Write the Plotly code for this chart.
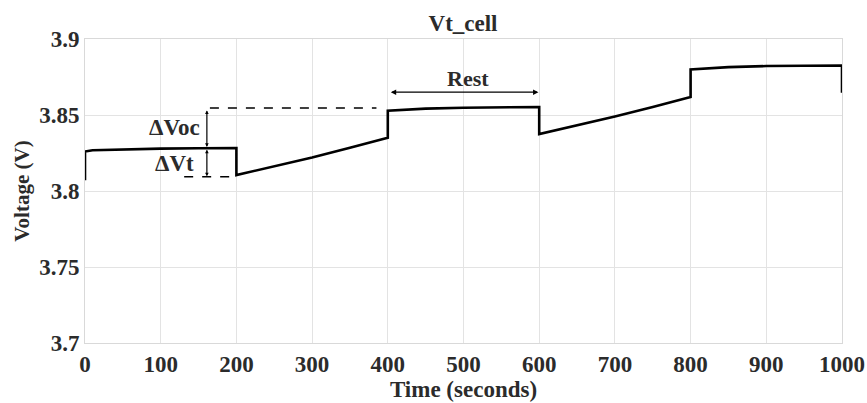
import plotly.graph_objects as go

# Data
time_s = [0, 0, 10, 50, 100, 150, 200, 200, 250, 300, 350, 400, 400, 450, 500, 550, 600,
          600, 650, 700, 750, 800, 800, 850, 900, 950, 1000, 1000]
voltage = [3.807, 3.826, 3.8268, 3.8275, 3.8279, 3.8281, 3.8283, 3.8105, 3.8160, 3.8220,
           3.8285, 3.8350, 3.8528, 3.8542, 3.8548, 3.8551, 3.8553, 3.8375, 3.8430, 3.8490,
           3.8552, 3.8618, 3.8800, 3.8815, 3.8822, 3.8825, 3.8826, 3.8647]

x_ticks = [0, 100, 200, 300, 400, 500, 600, 700, 800, 900, 1000]
y_ticks = [3.7, 3.75, 3.8, 3.85, 3.9]
y_tick_text = ["3.7", "3.75", "3.8", "3.85", "3.9"]

FONT = "Liberation Serif"
TXT = "#2b2b2b"

fig = go.Figure()
fig.add_trace(go.Scatter(x=time_s, y=voltage, mode="lines",
                         line=dict(color="black", width=2.6), showlegend=False))

# dashed guide lines
fig.add_shape(type="line", xref="x", yref="y", x0=165, x1=385, y0=3.8546, y1=3.8546,
              line=dict(color="black", width=1.5, dash="dash"))
fig.add_shape(type="line", xref="x", yref="y", x0=131, x1=200, y0=3.8093, y1=3.8093,
              line=dict(color="black", width=1.5, dash="dash"))

def darrow(x0, y0, x1, y1, size=0.6):
    fig.add_annotation(x=x1, y=y1, ax=x0, ay=y0, xref="x", yref="y", axref="x", ayref="y",
                       showarrow=True, arrowhead=2, arrowside="end+start", arrowsize=size,
                       arrowwidth=1.2, arrowcolor="black", text="")

darrow(161, 3.8540, 161, 3.8290)
darrow(161, 3.8282, 161, 3.8097)
darrow(402, 3.8650, 599, 3.8650, size=0.9)

fig.add_annotation(x=118, y=3.8418, xref="x", yref="y", text="<b>ΔVoc</b>", showarrow=False,
                   font=dict(family=FONT, size=23, color=TXT))
fig.add_annotation(x=118, y=3.8182, xref="x", yref="y", text="<b>ΔVt</b>", showarrow=False,
                   font=dict(family=FONT, size=23, color=TXT))
fig.add_annotation(x=506, y=3.8737, xref="x", yref="y", text="<b>Rest</b>", showarrow=False,
                   font=dict(family=FONT, size=22, color=TXT))

fig.update_layout(
    width=867, height=403,
    margin=dict(l=85, r=25, t=39, b=60),
    plot_bgcolor="white", paper_bgcolor="white",
    title=dict(text="<b>Vt_cell</b>", x=463 / 867, xanchor="center",
               y=1 - 23 / 403, yanchor="middle",
               font=dict(family=FONT, size=23, color=TXT)),
    font=dict(family=FONT, color=TXT),
)
fig.update_xaxes(range=[0, 1000], tickvals=x_ticks, ticktext=[f"<b>{v}</b>" for v in x_ticks],
                 automargin=False,
                 showgrid=True, gridcolor="#e3e3e3", gridwidth=1, zeroline=False,
                 showline=True, linecolor="#d9d9d9", linewidth=1, mirror=True, ticks="",
                 ticklabelstandoff=0,
                 tickfont=dict(family=FONT, size=23, color=TXT),
                 title=dict(text="<b>Time (seconds)</b>", font=dict(family=FONT, size=23, color=TXT),
                            standoff=2))
fig.update_yaxes(range=[3.7, 3.9], tickvals=y_ticks, ticktext=[f"<b>{t}</b>" for t in y_tick_text],
                 automargin=False,
                 showgrid=True, gridcolor="#e3e3e3", gridwidth=1, zeroline=False,
                 showline=True, linecolor="#d9d9d9", linewidth=1, mirror=True, ticks="",
                 tickfont=dict(family=FONT, size=23, color=TXT),
                 title=dict(text="<b>Voltage (V)</b>", font=dict(family=FONT, size=21, color=TXT),
                            standoff=3))

fig.write_html("out.html")
